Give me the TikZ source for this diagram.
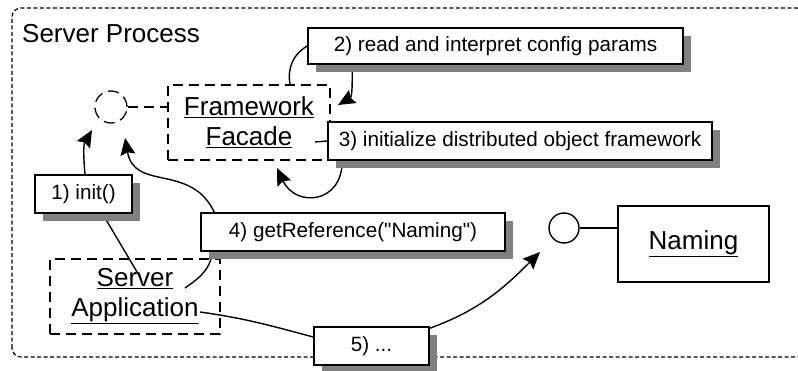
\documentclass[tikz,border=0pt]{standalone}
\usepackage{fontspec}
\setmainfont{Liberation Sans}[Ligatures=TeXOff]
\usetikzlibrary{arrows.meta}
\usetikzlibrary{shadows}
\definecolor{shadowgray}{rgb}{0.5,0.5,0.5}
\pgfdeclarelayer{background}
\pgfsetlayers{background,main}

\tikzset{
  msgbox/.style={draw, line width=1.5pt, fill=white, inner sep=0pt, minimum height=38pt,
    font=\fontsize{20.7}{24}\selectfont,
    drop shadow={shadow xshift=8pt, shadow yshift=-8pt, fill=shadowgray, opacity=1}},
  objbox/.style={draw, line width=1.3pt, inner sep=0pt, align=center,
    font=\fontsize{26}{30}\selectfont},
  link/.style={line width=1.4pt},
  msg/.style={line width=1.4pt, -{Stealth[length=17pt,width=15pt,inset=2.5pt]}}
}

\begin{document}
\begin{tikzpicture}[x=1pt,y=1pt]
    \useasboundingbox (0,0) rectangle (798,370);

    % draw process boundary
    \draw[line width=1.2pt, dash pattern=on 4pt off 2.5pt, rounded corners=9pt] (12,13) rectangle (806,362);
    \node[anchor=base west, inner sep=0pt, font=\fontsize{26}{30}\selectfont] (title) at (22,327) {Server Process};

    % draw objects
    \node[objbox, dash pattern=on 10pt off 6pt, minimum width=162pt, minimum height=75pt] (facade) at (249,247.5) {\underline{Framework}\\\underline{Facade}};
    \node[objbox, dash pattern=on 10pt off 6pt, minimum width=170pt, minimum height=75pt] (srvapp) at (135,73.5) {\underline{Server}\\\underline{Application}};
    \node[objbox, line width=1.5pt, minimum width=151pt, minimum height=76pt] (naming) at (693.5,126) {\underline{Naming}};

    % draw interfaces
    \node[circle, draw, line width=1.3pt, dash pattern=on 11pt off 6pt, minimum size=32pt, inner sep=0pt] (facadeiface) at (111,263) {};
    \node[circle, draw, line width=1.4pt, minimum size=30pt, inner sep=0pt] (namingiface) at (564,142) {};
    \draw[line width=1.3pt, dash pattern=on 10pt off 6pt] (facadeiface.east) -- (facade.west |- facadeiface.east);
    \draw[link] (namingiface.east) -- (naming.west |- namingiface.east);

    % draw messages
    \node[msgbox, minimum width=97pt] (init) at (83.5,176) {1) init()};
    \node[msgbox, minimum width=375pt, minimum height=36pt] (readcfg) at (495.5,324) {2) read and interpret config params};
    \node[msgbox, minimum width=384pt] (initfw) at (520,229) {3) initialize distributed object framework};
    \node[msgbox, minimum width=304pt] (getref) at (353,138) {4) getReference("Naming")};
    \node[msgbox, minimum width=115pt] (etc) at (371.5,24) {5) ...};

    % connector end points
    \coordinate (initend) at (92,240);
    \coordinate (getrefend) at (125,232);
    \coordinate (cfgend) at (338,265);
    \coordinate (fwend) at (277,202);
    \coordinate (namingend) at (540,118);
    \coordinate (srvtop) at (140,93);
    \coordinate (srvright) at (185,82);
    \coordinate (append) at (200,58);
    \coordinate (facadeend) at (315,228);

    % draw links and calls
    \begin{pgfonlayer}{background}
    \draw[msg] ([xshift=1.5pt]init.north) to[out=95,in=-120] (initend);
    \draw[link] ([xshift=19pt]init.south) -- (srvtop);
    \draw[msg] ([xshift=14pt]getref.north west) to[out=115,in=-80,looseness=1.2] (getrefend);
    \draw[link] ([xshift=12pt]getref.south west) to[out=-95,in=35] (srvright);
    \draw[link] ([xshift=41pt]facade.north) to[out=100,in=210] (readcfg.west);
    \draw[msg] ([xshift=45pt]readcfg.south west) to[out=-90,in=30] (cfgend);
    \draw[link] (facadeend) -- (initfw.west);
    \draw[msg] ([xshift=15pt]initfw.south west) to[out=-90,in=-65,looseness=1.7] (fwend);
    \draw[link] (append) to[out=-8,in=165] ([yshift=9pt]etc.west);
    \draw[msg] ([yshift=-2pt]etc.north east) to[out=20,in=-135] (namingend);
    \end{pgfonlayer}
\end{tikzpicture}
\end{document}
